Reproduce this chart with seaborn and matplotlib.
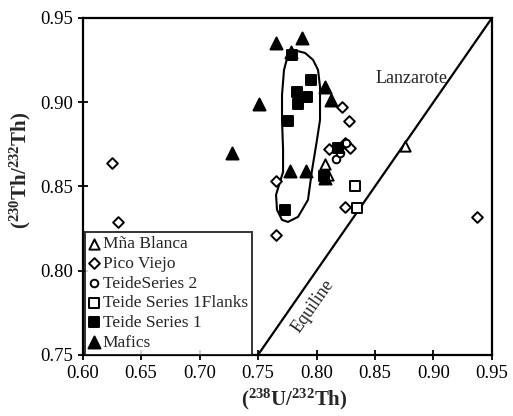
import matplotlib
matplotlib.use("Agg")

import matplotlib.pyplot as plt
import seaborn as sns

# values
mna_x = [0.807, 0.810, 0.876]
mna_y = [0.863, 0.857, 0.874]

pico_x = [0.625, 0.630, 0.765, 0.765, 0.822, 0.828, 0.811, 0.824, 0.829, 0.824, 0.937]
pico_y = [0.864, 0.829, 0.853, 0.821, 0.897, 0.889, 0.872, 0.876, 0.873, 0.838, 0.832]

ts2_x = [0.817, 0.820, 0.825]
ts2_y = [0.866, 0.870, 0.876]

flank_x = [0.833, 0.835]
flank_y = [0.850, 0.837]

ts1_x = [0.779, 0.795, 0.783, 0.792, 0.784, 0.776, 0.773, 0.818, 0.806]
ts1_y = [0.928, 0.913, 0.906, 0.903, 0.899, 0.889, 0.836, 0.873, 0.856]

mafic_x = [0.765, 0.788, 0.778, 0.751, 0.728, 0.777, 0.791, 0.807, 0.812, 0.807]
mafic_y = [0.935, 0.938, 0.930, 0.899, 0.870, 0.859, 0.859, 0.909, 0.901, 0.855]

# Lanzarote field outline
lanz_x = [0.7799, 0.7902, 0.7970, 0.8013, 0.8030, 0.8030, 0.8004, 0.7962, 0.7927,
          0.7842, 0.7756, 0.7705, 0.7662, 0.7654, 0.7714, 0.7714, 0.7705, 0.7705,
          0.7722, 0.7756, 0.7799]
lanz_y = [0.9310, 0.9292, 0.9251, 0.9191, 0.9091, 0.8895, 0.8776, 0.8598, 0.8420,
          0.8319, 0.8289, 0.8301, 0.8361, 0.8450, 0.8586, 0.8717, 0.8895, 0.9043,
          0.9191, 0.9280, 0.9310]

equi_x = [0.75, 0.95]
equi_y = [0.75, 0.95]

x_ticks = [0.60, 0.65, 0.70, 0.75, 0.80, 0.85, 0.90, 0.95]
y_ticks = [0.75, 0.80, 0.85, 0.90, 0.95]

sns.set_style("ticks")
plt.rcParams["font.family"] = ["Liberation Serif", "DejaVu Serif"]
plt.rcParams["mathtext.fontset"] = "custom"
plt.rcParams["mathtext.rm"] = "Liberation Serif"
plt.rcParams["mathtext.bf"] = "Liberation Serif:bold"

fig = plt.figure(figsize=(5.13, 4.16), dpi=100)
ax = fig.add_axes([0.161, 0.147, 0.798, 0.810])

sns.lineplot(x=equi_x, y=equi_y, sort=False, estimator=None, color="black",
             linewidth=1.6, ax=ax)
sns.lineplot(x=lanz_x, y=lanz_y, sort=False, estimator=None, color="black",
             linewidth=1.5, ax=ax)

groups = [
    (mna_x, mna_y, "^", "white", 55, "Mña Blanca"),
    (pico_x, pico_y, "D", "white", 30, "Pico Viejo"),
    (ts2_x, ts2_y, "o", "white", 30, "TeideSeries 2"),
    (flank_x, flank_y, "s", "white", 55, "Teide Series 1Flanks"),
    (ts1_x, ts1_y, "s", "black", 55, "Teide Series 1"),
    (mafic_x, mafic_y, "^", "black", 75, "Mafics"),
]
for gx, gy, marker, face, size, label in groups:
    sns.scatterplot(x=gx, y=gy, marker=marker, s=size, facecolor=face,
                    edgecolor="black", linewidth=1.4, label=label, ax=ax,
                    zorder=3)

ax.text(0.881, 0.914, "Lanzarote", fontsize=13, ha="center", va="center")
ax.text(0.797, 0.779, "Equiline", fontsize=13, ha="center", va="center",
        rotation=55)

ax.set_xlim(0.60, 0.95)
ax.set_ylim(0.75, 0.95)
ax.set_xticks(x_ticks)
ax.set_yticks(y_ticks)
ax.set_xticklabels([f"{v:.2f}" for v in x_ticks])
ax.set_yticklabels([f"{v:.2f}" for v in y_ticks])
ax.tick_params(direction="inout", length=7, width=1.3, labelsize=13.5,
               colors="black")
for side in ["top", "right", "left", "bottom"]:
    ax.spines[side].set_visible(True)
    ax.spines[side].set_color("black")
    ax.spines[side].set_linewidth(1.6)

ax.set_xlabel(r"$\mathbf{(^{238}U/^{232}Th)}$", fontsize=15)
ax.set_ylabel(r"$\mathbf{(^{230}Th/^{232}Th)}$", fontsize=15)
ax.xaxis.set_label_coords(0.518, -0.095)
ax.yaxis.set_label_coords(-0.122, 0.546)

leg = ax.legend(loc="lower left", bbox_to_anchor=(0.005, 0.0), fontsize=12.5,
                frameon=True, fancybox=False, edgecolor="black",
                handlelength=0.6, handletextpad=0.2, borderpad=0.25,
                labelspacing=0.2, borderaxespad=0)
leg.get_frame().set_linewidth(1.4)

plt.savefig("out.png", dpi=100)
plt.close()
